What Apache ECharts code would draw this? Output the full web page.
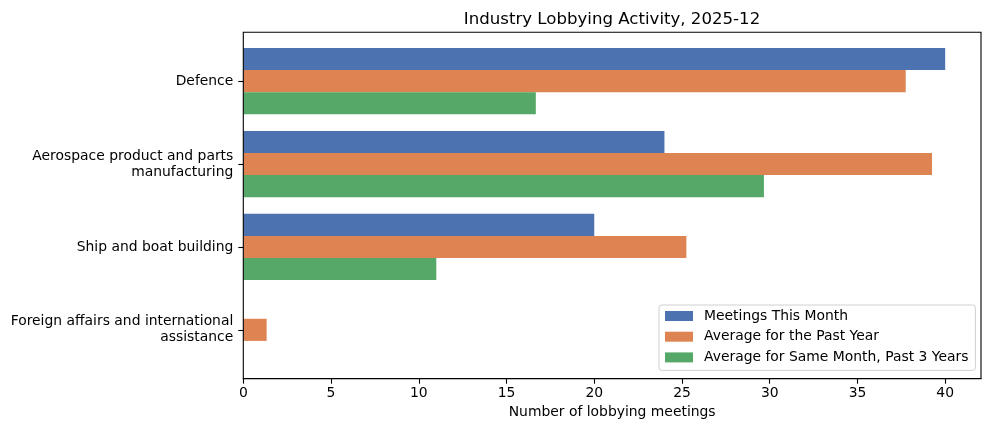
<!DOCTYPE html>
<html>
<head>
<meta charset="utf-8">
<script src="https://cdn.jsdelivr.net/npm/echarts@6/dist/echarts.min.js"></script>
<style>
html,body{margin:0;padding:0;background:#fff;}
#chart{width:990px;height:431px;}
</style>
</head>
<body>
<div id="chart"></div>
<script>
const categories = ['Defence', 'Aerospace product and parts\nmanufacturing', 'Ship and boat building', 'Foreign affairs and international\nassistance'];
const meetingsThisMonth = [40, 24, 20, 0];
const averagePastYear = [37.75, 39.25, 25.25, 1.33];
const averageSameMonth3Years = [16.67, 29.67, 11, 0];
const xTicks = [0, 5, 10, 15, 20, 25, 30, 35, 40];
const seriesNames = ['Meetings This Month', 'Average for the Past Year', 'Average for Same Month, Past 3 Years'];
const colors = ['#4c72b0', '#dd8452', '#55a868'];

const FONT = 'DejaVu Sans';
const xMax = 42.04;

const chart = echarts.init(document.getElementById('chart'), null, {renderer: 'canvas'});
const seriesData = [meetingsThisMonth, averagePastYear, averageSameMonth3Years];

chart.setOption({
  animation: false,
  backgroundColor: '#fff',
  title: {
    text: 'Industry Lobbying Activity, 2025-12',
    left: 607, top: 6, textAlign: 'center',
    textStyle: {fontFamily: FONT, fontSize: 16.6, fontWeight: 'normal', color: '#000'}
  },
  legend: {
    data: seriesNames,
    orient: 'vertical',
    left: 659, top: 305,
    padding: [4, 7, 6, 6],
    itemWidth: 28, itemHeight: 10, itemGap: 6.7,
    icon: 'rect',
    borderColor: '#d0d0d0', borderWidth: 1, borderRadius: 3,
    backgroundColor: 'rgba(255,255,255,0.8)',
    textStyle: {fontFamily: FONT, fontSize: 13.9, color: '#000', lineHeight: 14, padding: [0, 0, 0, 6]}
  },
  grid: [
    {left: 243.3, right: 9, top: 39.7, bottom: 59.7, containLabel: false},
    {left: 243.3, right: 9, top: 32.3, bottom: 52.3, containLabel: false, show: true, borderColor: '#000', borderWidth: 1.1, backgroundColor: 'transparent', z: 10}
  ],
  xAxis: [
    {type: 'value', gridIndex: 0, min: 0, max: xMax, show: false},
    {
      type: 'value', gridIndex: 1, min: 0, max: xMax, interval: 5,
      name: 'Number of lobbying meetings', nameLocation: 'middle', nameGap: 27,
      nameTextStyle: {fontFamily: FONT, fontSize: 13.9, color: '#000'},
      axisLine: {show: true, lineStyle: {color: '#000', width: 1.1}},
      axisTick: {show: true, length: 5, lineStyle: {color: '#000', width: 1.1}, customValues: xTicks},
      axisLabel: {fontFamily: FONT, fontSize: 13.9, color: '#000', margin: 8, customValues: xTicks},
      splitLine: {show: false}
    }
  ],
  yAxis: [
    {
      type: 'category', gridIndex: 0, data: categories, inverse: true,
      axisLine: {show: false},
      axisTick: {show: true, alignWithLabel: true, length: 5, lineStyle: {color: '#000', width: 1.1}},
      axisLabel: {fontFamily: FONT, fontSize: 13.9, color: '#000', margin: 10, lineHeight: 16, align: 'right'},
      splitLine: {show: false}
    },
    {type: 'value', gridIndex: 1, show: false, min: 0, max: 1}
  ],
  series: seriesData.map((d, i) => ({
    name: seriesNames[i],
    type: 'bar',
    xAxisIndex: 0, yAxisIndex: 0,
    data: d,
    barGap: '0%',
    barCategoryGap: '20%',
    itemStyle: {color: colors[i]}
  }))
});
</script>
</body>
</html>
